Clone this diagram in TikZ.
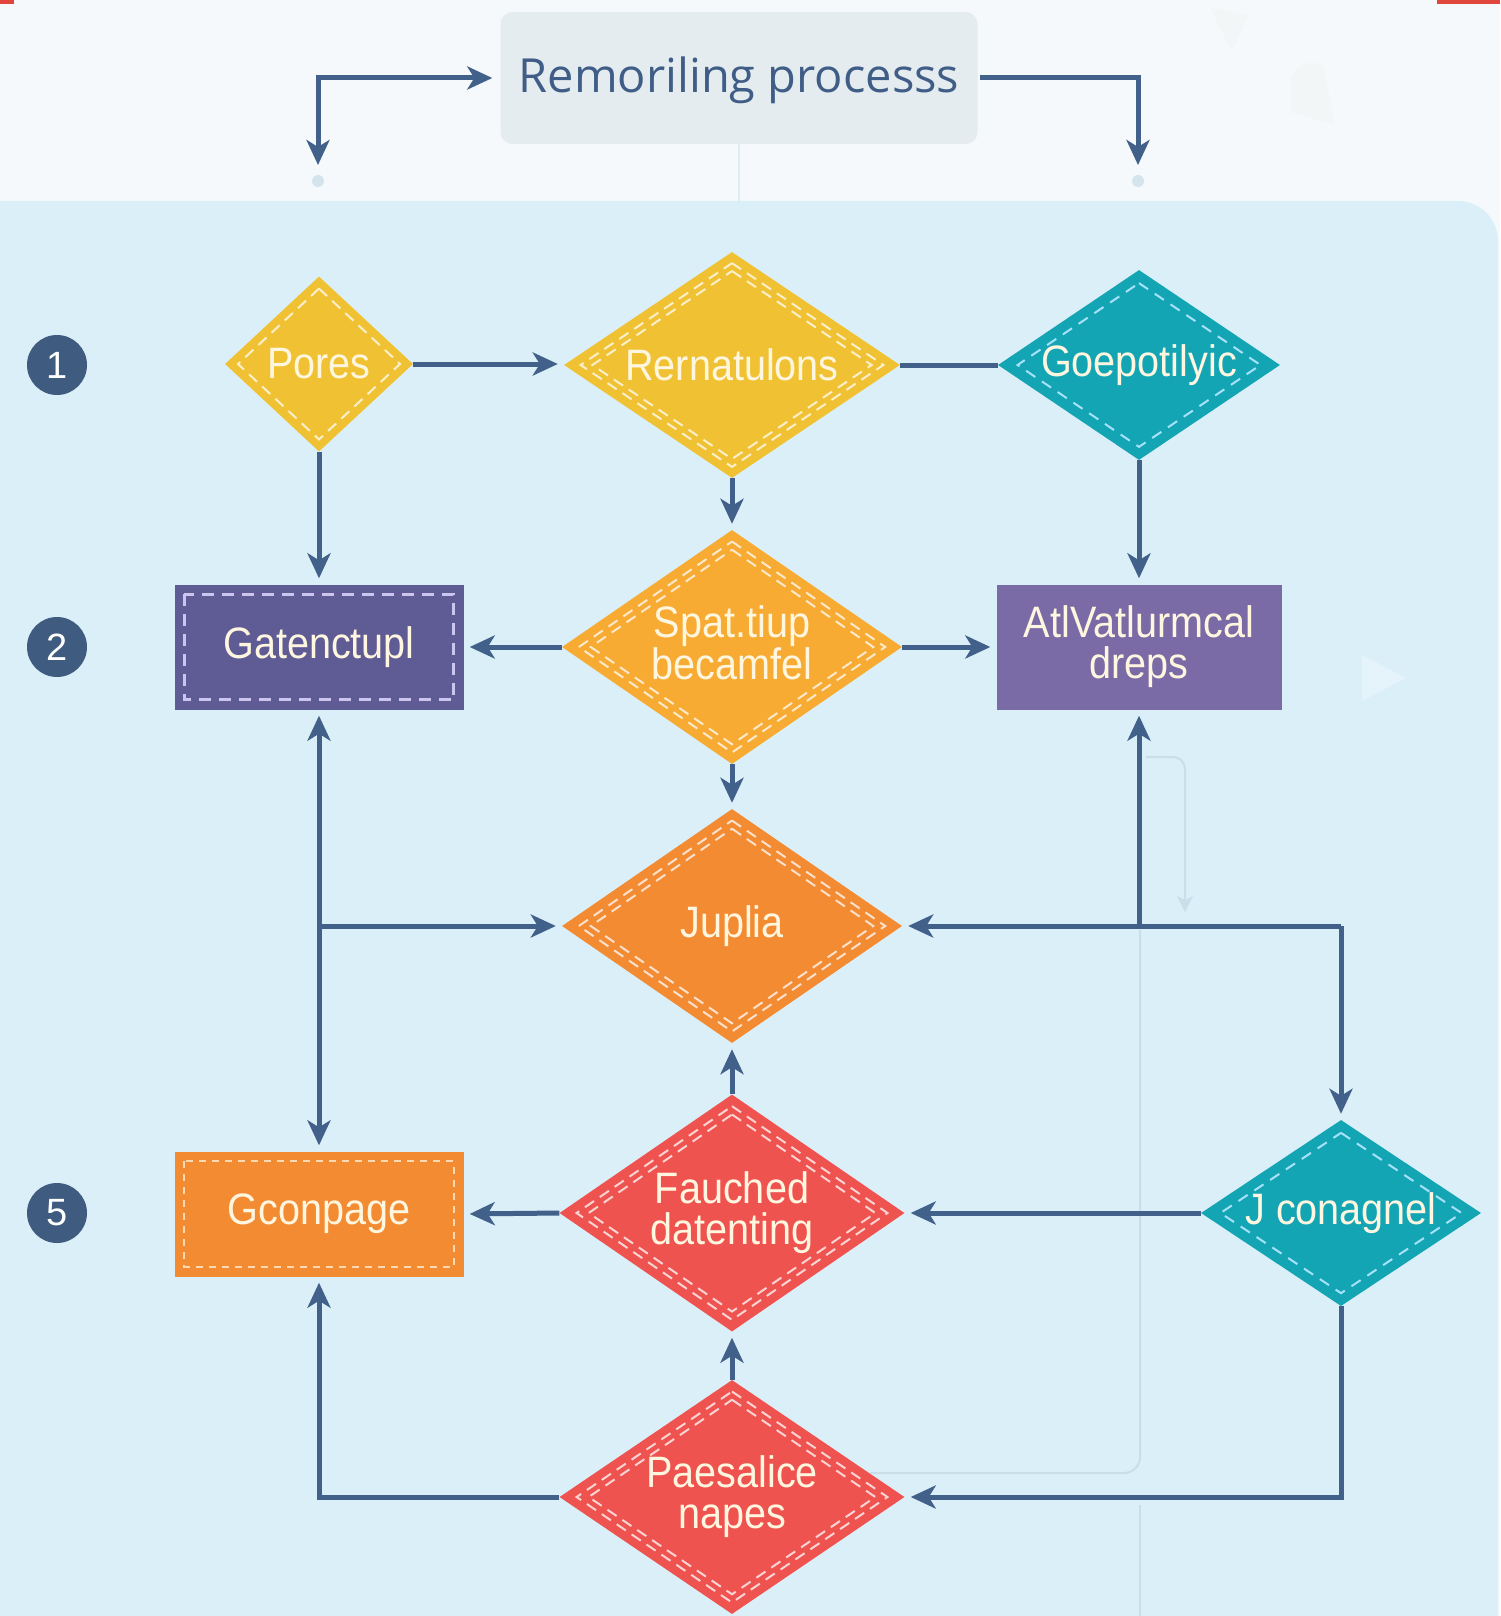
\documentclass[tikz,border=0pt]{standalone}
\usepackage{fontspec}
\setmainfont{Liberation Sans}
\newfontfamily\nodefont[FakeStretch=0.9]{Liberation Sans}
\newfontfamily\titlefont{Open Sans}
\usetikzlibrary{shapes.geometric,arrows.meta,calc}
\definecolor{topbg}{HTML}{F5F9FB}
\definecolor{panelbg}{HTML}{DBEFF8}
\definecolor{titlebox}{HTML}{E4ECEF}
\definecolor{titletext}{HTML}{3F5D86}
\definecolor{arrowc}{HTML}{41608A}
\definecolor{numc}{HTML}{3F5B7F}
\definecolor{cyellow}{HTML}{F0C233}
\definecolor{corangey}{HTML}{F7AB32}
\definecolor{corange}{HTML}{F38B33}
\definecolor{cred}{HTML}{EF5350}
\definecolor{cteal}{HTML}{14A5B5}
\definecolor{cpurpled}{HTML}{5F5B94}
\definecolor{cpurplel}{HTML}{7A6BA6}
\definecolor{ctext}{HTML}{FFF6E0}
\definecolor{faint}{HTML}{C8DEE8}
\definecolor{lavdash}{HTML}{CBC5EF}
\definecolor{orgdash}{HTML}{FCD9B0}
\definecolor{redmark}{HTML}{E0463C}
\newcommand\innerdia[3]{%
  \draw[#3] ($(#1.center)!#2!(#1.north)$) -- ($(#1.center)!#2!(#1.east)$) --
    ($(#1.center)!#2!(#1.south)$) -- ($(#1.center)!#2!(#1.west)$) -- cycle;}
\tikzset{
  dia/.style={shape=diamond, draw=none, inner sep=0pt},
  box/.style={shape=rectangle, draw=none, inner sep=0pt},
  txt/.style={text=ctext, font=\nodefont\fontsize{44}{41}\selectfont, align=center, inner sep=0pt},
  num/.style={circle, fill=numc, minimum size=60pt, inner sep=0pt, text=white,
    font=\fontsize{38}{38}\selectfont},
  tip/.tip={Stealth[length=25pt,width=23pt,inset=7pt]},
  conn/.style={draw=arrowc, line width=5pt, -tip, shorten >=6pt},
  plainconn/.style={draw=arrowc, line width=5pt},
  wdash/.style={draw=white, draw opacity=0.75, line width=2pt, dash pattern=on 11pt off 7pt},
  tdash/.style={draw=cyan!35!white, line width=2pt, dash pattern=on 11pt off 8pt},
}
\begin{document}
\begin{tikzpicture}[x=1pt,y=-1pt]
\useasboundingbox (0,0) rectangle (1500,1616);
% backgrounds
\fill[topbg] (0,0) rectangle (1500,1616);
\fill[panelbg, rounded corners=40pt] (-60,201) rectangle (1498,1700);
\fill[redmark] (0,0) rectangle (14,4);
\fill[redmark] (1437,0) rectangle (1500,4);
% faint decorations
\fill[gray!10, opacity=0.35] (1210,8) -- (1248,15) -- (1232,52) -- cycle;
\fill[gray!10, opacity=0.35] (1290,85) arc (180:300:22) -- (1335,125) -- (1290,112) -- cycle;
\fill[white, opacity=0.3] (1362,655) -- (1406,678) -- (1362,701) -- cycle;
\draw[faint, line width=2pt, rounded corners=12pt] (1146,757) -- (1185,757) -- (1185,905);
\fill[faint] (1185,912) -- (1177,896) -- (1185,900) -- (1193,896) -- cycle;
\draw[faint, line width=2pt, rounded corners=16pt] (1140,930) -- (1140,1473) -- (870,1473);
\draw[faint, line width=2pt] (1140,1505) -- (1140,1616);
% title
\node[box, fill=titlebox, rounded corners=12pt, minimum width=477pt, minimum height=132pt] (T) at (739,78) {};
\node[text=titletext, font=\titlefont\fontsize{47}{47}\selectfont, inner sep=0pt] (Tt) at (739,80) {Remoriling processs};
\draw[faint!60!white, line width=2pt] (T.south) -- (739,201);
\coordinate (L1) at (318,165);
\coordinate (R1) at (1138,165);
\fill[faint!80!white] (318,181) circle (6pt);
\fill[faint!80!white] (1138,181) circle (6pt);
\draw[draw=arrowc, line width=5pt, tip-tip, shorten >=8pt] (L1) |- (T.west);
\draw[conn, shorten >=0pt, shorten <=2pt] (T.east) -| (R1);
% row numbers
\node[num] (c1) at (57,365) {1};
\node[num] (c2) at (57,647) {2};
\node[num] (c5) at (57,1213) {5};
% row 1
\node[dia, fill=cyellow, minimum width=188pt, minimum height=175pt] (pores) at (319,364) {};
\innerdia{pores}{0.86}{wdash}
\node[txt] (pores-t) at (pores.center) {Pores};
\node[dia, fill=cyellow, minimum width=336pt, minimum height=226pt] (rern) at (732,365) {};
\innerdia{rern}{0.9}{wdash}
\innerdia{rern}{0.83}{wdash}
\node[txt] (rern-t) at (rern.center) {Rernatulons};
\node[dia, fill=cteal, minimum width=282pt, minimum height=190pt] (goep) at (1139,365) {};
\innerdia{goep}{0.86}{tdash}
\node[txt] (goep-t) at (goep.center) {Goepotilyic};
% row 2
\node[box, fill=cpurpled, minimum width=289pt, minimum height=125pt] (gat) at (319,647) {};
\draw[draw=lavdash, line width=2.5pt, dash pattern=on 12pt off 8pt]
  ($(gat.north west)+(10,10)$) rectangle ($(gat.south east)+(-10,-10)$);
\node[txt] (gat-t) at (gat.center) {Gatenctupl};
\node[dia, fill=corangey, minimum width=340pt, minimum height=234pt] (spat) at (732,647) {};
\innerdia{spat}{0.9}{wdash}
\innerdia{spat}{0.83}{wdash}
\node[txt] (spat-t) at ([yshift=4pt]spat.center) {Spat.tiup\\becamfel};
\node[box, fill=cpurplel, minimum width=285pt, minimum height=125pt] (atl) at (1139,647) {};
\node[txt] (atl-t) at (atl.center) {AtlVatlurmcal\\dreps};
% row 3
\node[dia, fill=corange, minimum width=340pt, minimum height=234pt] (jup) at (732,926) {};
\innerdia{jup}{0.9}{wdash}
\innerdia{jup}{0.83}{wdash}
\node[txt] (jup-t) at (jup.center) {Juplia};
% row 5
\node[box, fill=corange, minimum width=289pt, minimum height=125pt] (gcon) at (319,1214) {};
\draw[draw=orgdash, line width=2pt, dash pattern=on 7pt off 6pt]
  ($(gcon.north west)+(10,10)$) rectangle ($(gcon.south east)+(-10,-10)$);
\node[txt] (gcon-t) at (gcon.center) {Gconpage};
\node[dia, fill=cred, minimum width=345pt, minimum height=237pt] (fau) at (732,1213) {};
\innerdia{fau}{0.9}{wdash}
\innerdia{fau}{0.83}{wdash}
\node[txt] (fau-t) at (fau.center) {Fauched\\datenting};
\node[dia, fill=cteal, minimum width=280pt, minimum height=186pt] (jcon) at (1341,1213) {};
\innerdia{jcon}{0.86}{tdash}
\node[txt] (jcon-t) at (jcon.center) {J conagnel};
% row 6
\node[dia, fill=cred, minimum width=345pt, minimum height=234pt] (pae) at (732,1497) {};
\innerdia{pae}{0.9}{wdash}
\innerdia{pae}{0.83}{wdash}
\node[txt] (pae-t) at (pae.center) {Paesalice\\napes};
% connectors
\draw[conn] (pores.east) -- (pores.east -| rern.west);
\draw[plainconn] (rern.east) -- (goep.west);
\draw[conn] (rern.south) -- (spat.north);
\draw[conn] (pores.south) -- (pores.south |- gat.north);
\draw[conn] (goep.south) -- (atl.north);
\draw[conn] (spat.west) -- (gat.east);
\draw[conn] (spat.east) -- (atl.west);
\draw[conn] (spat.south) -- (jup.north);
\draw[draw=arrowc, line width=5pt, tip-tip, shorten >=6pt, shorten <=6pt] (gat.south) -- (gcon.north);
\coordinate (jl) at (gat.south |- jup.west);
\coordinate (ja) at (atl.south |- jup.east);
\coordinate (jr) at (jcon.north |- jup.east);
\draw[conn] (jl) -- (jup.west);
\draw[conn] (jr) -- (jup.east);
\draw[conn] (jr) -- (jcon.north);
\draw[conn] (ja) -- (atl.south);
\draw[conn] (jcon.west) -- (fau.east);
\draw[conn] (fau.west) -- (gcon.east);
\draw[conn] (fau.north) -- (jup.south);
\draw[conn] (pae.north) -- (fau.south);
\draw[conn] (pae.west) -| (gcon.south);
\draw[conn] (jcon.south) |- (pae.east);
\end{tikzpicture}
\end{document}
